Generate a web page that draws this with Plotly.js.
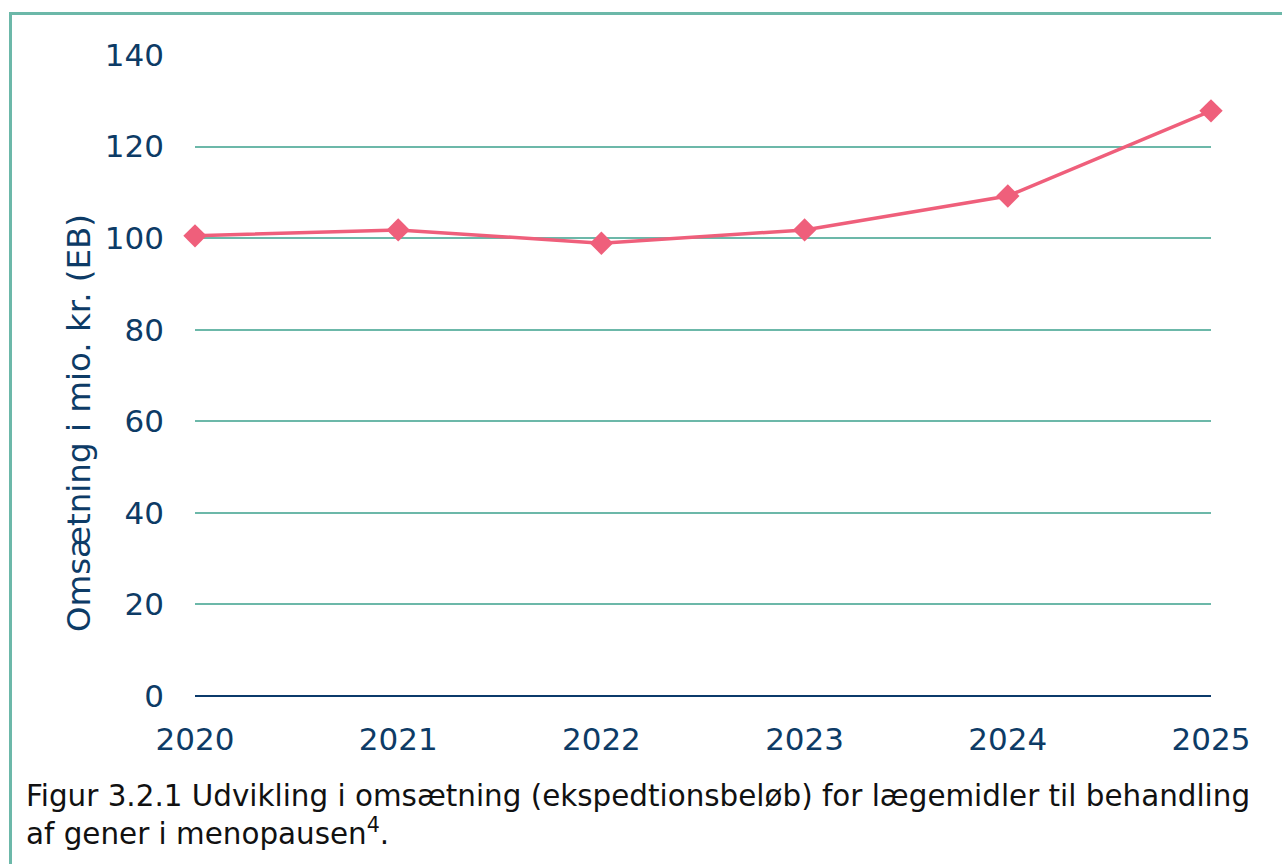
<!DOCTYPE html>
<html>
<head>
<meta charset="utf-8">
<script src="https://cdn.plot.ly/plotly-3.0.1.min.js"></script>
<style>
  html, body { margin: 0; padding: 0; background: #fff; }
  #chart { width: 1282px; height: 864px; }
  #frame { position: absolute; left: 9px; top: 12px; width: 1300px; height: 900px;
           border-left: 3px solid #6cb8a9; border-top: 3px solid #6cb8a9; pointer-events: none; }
</style>
</head>
<body>
<div id="chart"></div>
<div id="frame"></div>
<script>
const years = [2020, 2021, 2022, 2023, 2024, 2025];
const revenue = [100.5, 101.8, 98.9, 101.8, 109.2, 127.8];
const yTicks = [0, 20, 40, 60, 80, 100, 120, 140];
const yTitle = 'Omsætning i mio. kr. (EB)';
const caption = 'Figur 3.2.1 Udvikling i omsætning (ekspedtionsbeløb) for lægemidler til behandling<br>af gener i menopausen<sup>4</sup>.';

const navy = '#0d3b66';
const fontFam = 'DejaVu Sans, Verdana, sans-serif';

const trace = {
  x: years, y: revenue, type: 'scatter', mode: 'lines+markers',
  line: { color: '#ef5f7b', width: 3.5 },
  marker: { symbol: 'diamond', size: 18, color: '#ef5f7b' },
  cliponaxis: false, hoverinfo: 'x+y'
};

const layout = {
  width: 1282, height: 864,
  margin: { l: 195, r: 71, t: 55, b: 168 },
  paper_bgcolor: '#fff', plot_bgcolor: '#fff',
  showlegend: false,
  font: { family: fontFam, color: navy },
  xaxis: {
    range: [2020, 2025], tickvals: years, ticktext: years.map(String),
    showgrid: false, zeroline: false, showline: false, ticks: '',
    tickfont: { size: 31, color: navy, family: fontFam },
    ticklabelstandoff: 22
  },
  yaxis: {
    range: [0, 140], tickvals: yTicks, ticktext: yTicks.map(String),
    showgrid: true, gridcolor: '#6cb8a9', gridwidth: 2,
    zeroline: true, zerolinecolor: '#0b3a6b', zerolinewidth: 2,
    showline: false, ticks: '',
    tickfont: { size: 31, color: navy, family: fontFam },
    ticklabelstandoff: 30
  },
  annotations: [{
    xref: 'paper', yref: 'paper', x: -0.114, y: 0.426, xanchor: 'center', yanchor: 'middle',
    textangle: -90, showarrow: false, text: yTitle,
    font: { size: 32.5, color: navy, family: fontFam }
  }, {
    xref: 'paper', yref: 'paper', x: -0.168, y: -0.126, xanchor: 'left', yanchor: 'top',
    align: 'left', showarrow: false, text: caption,
    font: { size: 29.4, color: '#111', family: fontFam }
  }]
};

Plotly.newPlot('chart', [trace], layout, { displayModeBar: false, staticPlot: true });
</script>
</body>
</html>
